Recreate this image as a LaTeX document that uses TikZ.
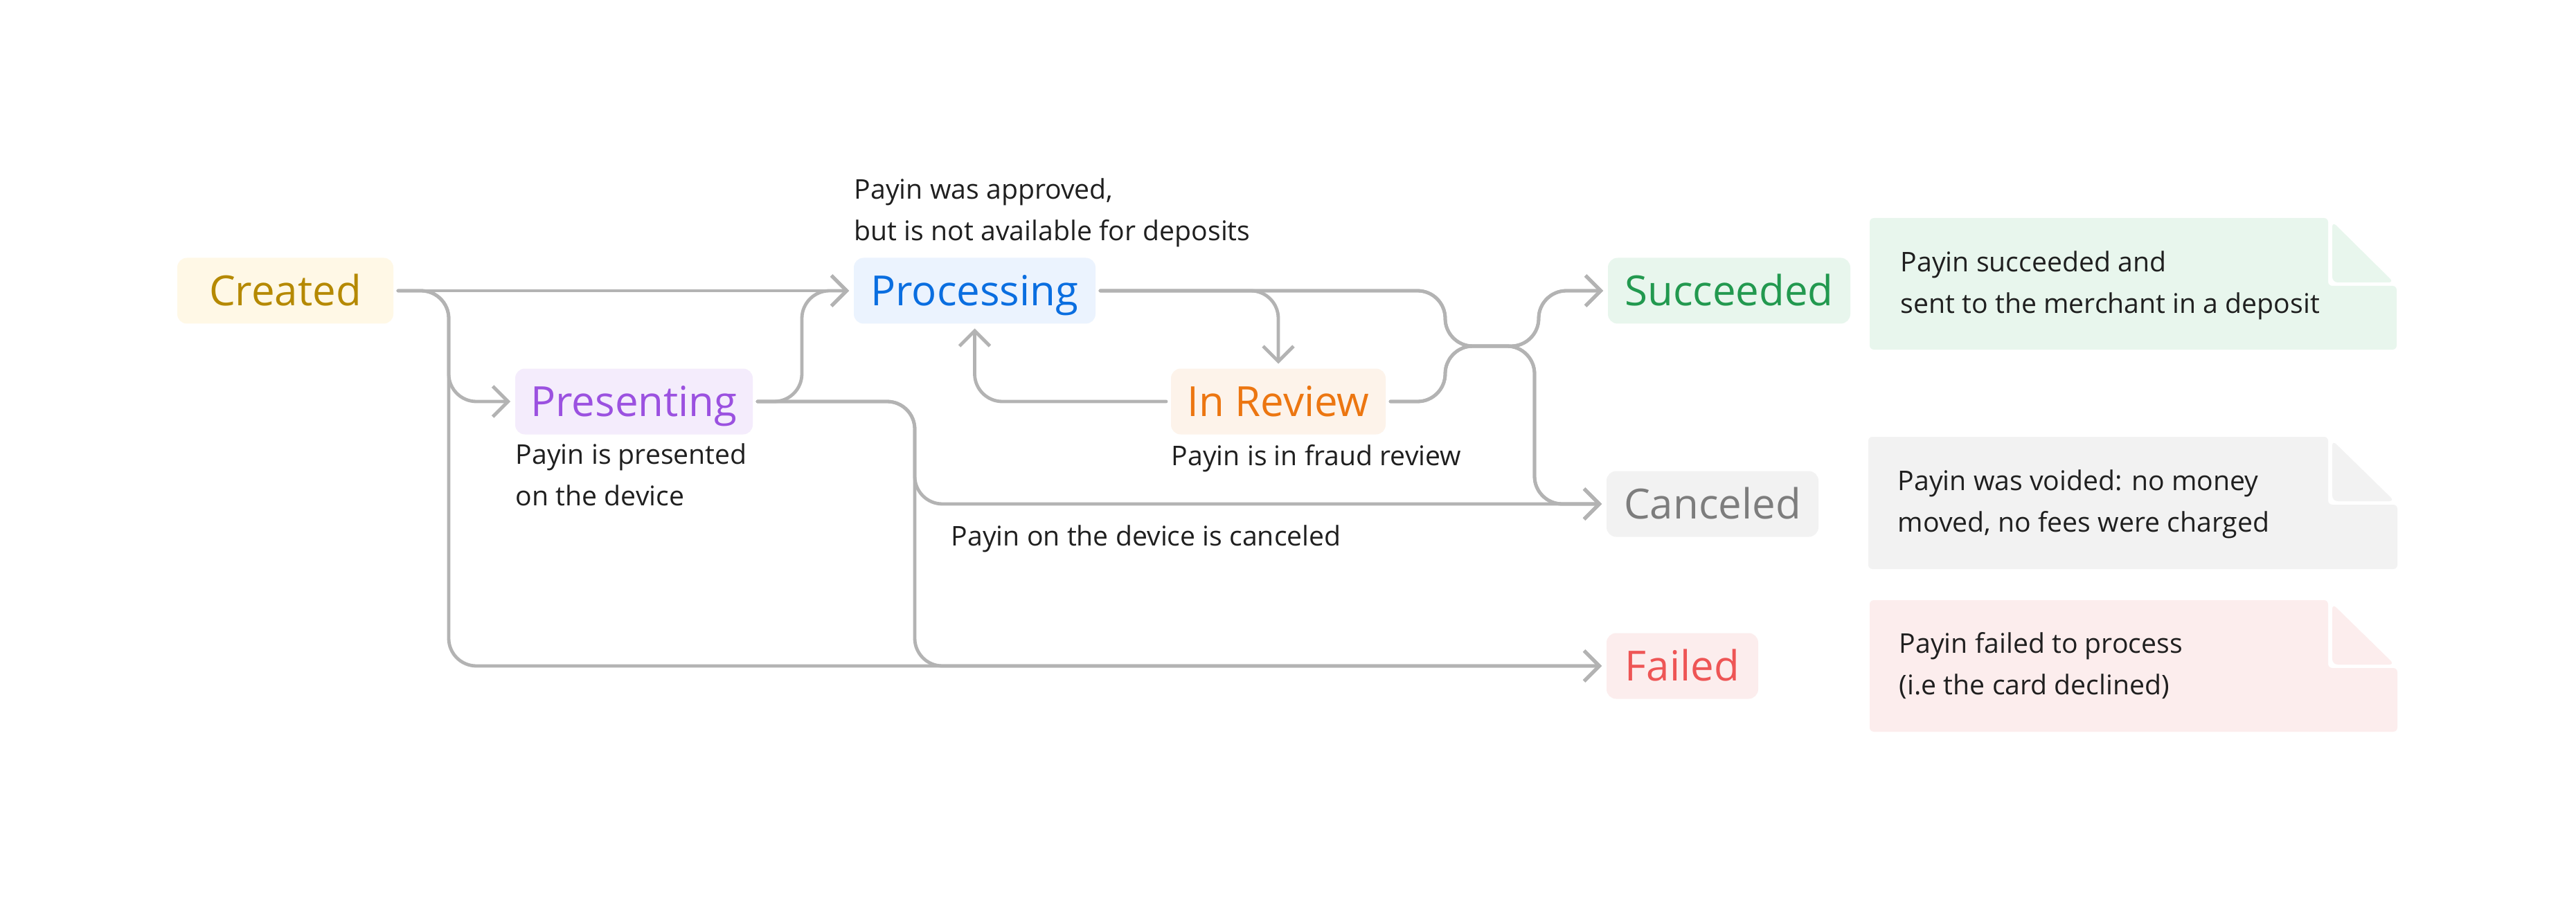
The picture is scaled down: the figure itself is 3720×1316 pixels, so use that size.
\documentclass[tikz,border=0pt]{standalone}
\usepackage{fontspec}
\setmainfont{Open Sans}
\usetikzlibrary{arrows.meta}
\definecolor{linec}{HTML}{B3B3B3}
\definecolor{txt}{HTML}{1F1F1F}
\definecolor{crfill}{HTML}{FFF8E6}\definecolor{crtext}{HTML}{B58900}
\definecolor{prfill}{HTML}{F4ECFC}\definecolor{prtext}{HTML}{9B51E0}
\definecolor{pcfill}{HTML}{EBF3FE}\definecolor{pctext}{HTML}{0A6EE0}
\definecolor{rvfill}{HTML}{FDF3EA}\definecolor{rvtext}{HTML}{EC7611}
\definecolor{sufill}{HTML}{E8F6ED}\definecolor{sutext}{HTML}{22994F}
\definecolor{cafill}{HTML}{F2F2F2}\definecolor{catext}{HTML}{7D7D7D}
\definecolor{fafill}{HTML}{FCEDED}\definecolor{fatext}{HTML}{EE5555}
\begin{document}
\begin{tikzpicture}[x=0.25pt,y=-0.25pt,
  stbox/.style={rounded corners=3.5pt, minimum height=23.75pt, inner sep=0pt, outer sep=1.75pt, text height=10.7pt, text depth=0pt, font=\fontsize{15}{18}\selectfont},
  conn/.style={draw=linec, line width=1.2pt, rounded corners=10pt, line cap=round, line join=round},
  arr/.style={-{Straight Barb[length=5.5pt,width=11pt,line width=1.2pt]}},
  desc/.style={anchor=base west, align=left, inner sep=0pt, text=txt, font=\fontsize{9.8}{15}\selectfont}]
\useasboundingbox[fill=white] (0,0) rectangle (3720,1316);

% state nodes
\node[stbox, fill=crfill, text=crtext, minimum width=78pt] (created) at (412,420) {Created};
\node[stbox, fill=prfill, text=prtext, minimum width=85.75pt] (pres) at (915.5,580) {Presenting};
\node[stbox, fill=pcfill, text=pctext, minimum width=87.25pt] (proc) at (1407.5,420) {Processing};
\node[stbox, fill=rvfill, text=rvtext, minimum width=77.5pt] (rev) at (1846,580) {In Review};
\node[stbox, fill=sufill, text=sutext, minimum width=87.5pt] (succ) at (2497,420) {Succeeded};
\node[stbox, fill=cafill, text=catext, minimum width=76.5pt] (canc) at (2473,728) {Canceled};
\node[stbox, fill=fafill, text=fatext, minimum width=54.75pt] (failed) at (2429.5,962) {Failed};

% descriptions (base anchor = last line baseline)
\node[desc] (dproc) at (1233,348) {Payin was approved,\\but is not available for deposits};
\node[desc] (dpres) at (744,730) {Payin is presented\\on the device};
\node[desc] (drev) at (1691,672) {Payin is in fraud review};
\node[desc] (dcanc) at (1373,788) {Payin on the device is canceled};

% notes
\fill[sufill, rounded corners=1.5pt] (2700,315) -- (3362,315) -- (3362,413) -- (3461,413) -- (3461,505) -- (2700,505) -- cycle;
\fill[sufill, rounded corners=2pt] (3368,320) -- (3368,408) -- (3457,408) -- cycle;
\fill[cafill, rounded corners=1.5pt] (2698,631) -- (3362,631) -- (3362,729) -- (3462,729) -- (3462,822) -- (2698,822) -- cycle;
\fill[cafill, rounded corners=2pt] (3368,636) -- (3368,724) -- (3458,724) -- cycle;
\fill[fafill, rounded corners=1.5pt] (2700,867) -- (3362,867) -- (3362,965) -- (3462,965) -- (3462,1057) -- (2700,1057) -- cycle;
\fill[fafill, rounded corners=2pt] (3368,872) -- (3368,960) -- (3458,960) -- cycle;
\node[desc] (nsucc) at (2744,453) {Payin succeeded and\\sent to the merchant in a deposit};
\node[desc] (ncanc) at (2740,768) {Payin was voided: no money\\moved, no fees were charged};
\node[desc] (nfail) at (2742,1003) {Payin failed to process\\(i.e the card declined)};

% routing coordinates
\coordinate (ca) at (648,420);
\coordinate (cb) at (648,580);
\coordinate (cc) at (648,962);
\coordinate (pa) at (1158,580);
\coordinate (pb) at (1158,420);
\coordinate (pc) at (1321,580);
\coordinate (pd) at (1321,728);
\coordinate (pe) at (1321,962);
\coordinate (ja) at (2087,420);
\coordinate (jb) at (2087,500);
\coordinate (jc) at (2087,580);
\coordinate (jd) at (2222,500);
\coordinate (je) at (2222,420);
\coordinate (jf) at (2216,500);
\coordinate (jg) at (2216,728);

% connectors
\draw[conn,arr] (created.east) -- (proc.west);
\draw[conn,arr] (created.east) -- (ca) -- (cb) -- (pres.west);
\draw[conn,arr] (created.east) -- (ca) -- (cc) -- (failed.west);
\draw[conn,arr] (pres.east) -- (pa) -- (pb) -- (proc.west);
\draw[conn,arr] (pres.east) -- (pc) -- (pd) -- (canc.west);
\draw[conn,arr] (pres.east) -- (pc) -- (pe) -- (failed.west);
\draw[conn,arr] (proc.east) -- (proc.east -| rev.north) -- (rev.north);
\draw[conn,arr] (rev.west) -- (rev.west -| proc.south) -- (proc.south);
\draw[conn,arr] (proc.east) -- (ja) -- (jb) -- (jd) -- (je) -- (succ.west);
\draw[conn,arr] (proc.east) -- (ja) -- (jb) -- (jf) -- (jg) -- (canc.west);
\draw[conn,arr] (rev.east) -- (jc) -- (jb) -- (jd) -- (je) -- (succ.west);
\draw[conn,arr] (rev.east) -- (jc) -- (jb) -- (jf) -- (jg) -- (canc.west);
\end{tikzpicture}
\end{document}
